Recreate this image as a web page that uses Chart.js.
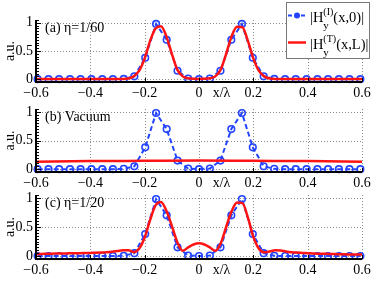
<!DOCTYPE html>
<html>
<head>
<meta charset="utf-8">
<script src="https://cdn.jsdelivr.net/npm/chart.js@4.4.1/dist/chart.umd.min.js"></script>
<style>
  body { margin: 0; background: #fff; }
  #wrap { position: relative; width: 374px; height: 281px; }
  canvas { position: absolute; left: 0; }
</style>
</head>
<body>
<div id="wrap">
  <canvas id="pa" width="374" height="100" style="top:0px"></canvas>
  <canvas id="pb" width="374" height="101" style="top:89px"></canvas>
  <canvas id="pc" width="374" height="102" style="top:175px"></canvas>
</div>
<script>
'use strict';

// axis ticks
const xTicks = [-0.6, -0.4, -0.2, 0, 0.2, 0.4, 0.6];
const xTickLabels = ['−0.6', '−0.4', '−0.2', '0', '0.2', '0.4', '0.6'];
const yTicks = [0, 0.5, 1];
const yTickLabels = ['0', '0.5', '1'];

// |Hy(I)(x,0)| : dashed blue with circles (same in all three panels)
const markX = [-0.594, -0.554, -0.515, -0.475, -0.436, -0.396, -0.356, -0.317, -0.277, -0.238,
  -0.198, -0.158, -0.119, -0.079, -0.040, 0, 0.040, 0.079, 0.119, 0.158,
  0.198, 0.238, 0.277, 0.317, 0.356, 0.396, 0.436, 0.475, 0.515, 0.554, 0.594];
const incident = [0, 0, 0, 0, 0, 0, 0, 0, 0.005, 0.05,
  0.38, 0.98, 0.70, 0.15, 0.01, 0, 0.01, 0.15, 0.70, 0.98,
  0.38, 0.05, 0.005, 0, 0, 0, 0, 0, 0, 0, 0];

// |Hy(T)(x,L)| : solid red
const fineX = [-0.60, -0.58, -0.56, -0.54, -0.52, -0.50, -0.48, -0.46, -0.44, -0.42,
  -0.40, -0.38, -0.36, -0.34, -0.32, -0.30, -0.28, -0.26, -0.24, -0.22,
  -0.20, -0.18, -0.16, -0.14, -0.12, -0.10, -0.08, -0.06, -0.04, -0.02, 0,
  0.02, 0.04, 0.06, 0.08, 0.10, 0.12, 0.14, 0.16, 0.18, 0.20,
  0.22, 0.24, 0.26, 0.28, 0.30, 0.32, 0.34, 0.36, 0.38, 0.40,
  0.42, 0.44, 0.46, 0.48, 0.50, 0.52, 0.54, 0.56, 0.58, 0.60];
const transA = [0.005, 0.005, 0.005, 0.005, 0.005, 0.005, 0.005, 0.005, 0.005, 0.005,
  0.005, 0.005, 0.005, 0.005, 0.005, 0.005, 0.005, 0.012, 0.05, 0.15,
  0.37, 0.68, 0.90, 0.94, 0.76, 0.45, 0.17, 0.05, 0.015, 0.006, 0.005,
  0.006, 0.015, 0.05, 0.17, 0.45, 0.76, 0.93, 0.92, 0.68, 0.37,
  0.15, 0.05, 0.012, 0.005, 0.005, 0.005, 0.005, 0.005, 0.005, 0.005,
  0.005, 0.005, 0.005, 0.005, 0.005, 0.005, 0.005, 0.005, 0.005, 0.005];
const vacX = [-0.6, -0.4, -0.2, 0, 0.2, 0.4, 0.6];
const transB = [0.13, 0.14, 0.145, 0.15, 0.145, 0.14, 0.13];
const transC = [0.035, 0.037, 0.04, 0.042, 0.044, 0.045, 0.047, 0.049, 0.05, 0.052,
  0.055, 0.058, 0.062, 0.068, 0.076, 0.088, 0.10, 0.10, 0.068, 0.13,
  0.32, 0.62, 0.87, 0.93, 0.78, 0.52, 0.24, 0.09, 0.15, 0.20, 0.22,
  0.20, 0.15, 0.09, 0.22, 0.50, 0.77, 0.92, 0.91, 0.66, 0.33,
  0.13, 0.065, 0.08, 0.10, 0.095, 0.08, 0.068, 0.06, 0.055, 0.05,
  0.045, 0.042, 0.04, 0.037, 0.035, 0.032, 0.03, 0.028, 0.027, 0.026];

const panelLabels = ['(a) η=1/60', '(b) Vacuum', '(c) η=1/20'];
const legendLabels = [['(I)', '(x,0)|'], ['(T)', '(x,L)|']];

const BLUE = '#2344ff';
const RED = '#ff1414';
const FONT = '"Liberation Serif", "Times New Roman", serif';

function pts(xs, ys) {
  return xs.map((x, i) => ({ x: x, y: ys[i] }));
}

function drawLegend(ctx) {
  ctx.save();
  ctx.fillStyle = '#fff';
  ctx.fillRect(286.5, 2.5, 83, 56);
  ctx.strokeStyle = '#777';
  ctx.lineWidth = 1;
  ctx.strokeRect(286.5, 2.5, 83, 56);

  const rows = [
    { line: 15.5, base: 22, color: BLUE, dash: [4, 2.5], dot: true },
    { line: 42.5, base: 48.5, color: RED, dash: [], dot: false }
  ];
  rows.forEach((r, i) => {
    ctx.strokeStyle = r.color;
    ctx.lineWidth = r.dot ? 2 : 2.5;
    ctx.setLineDash(r.dash);
    ctx.beginPath();
    ctx.moveTo(288, r.line);
    ctx.lineTo(306, r.line);
    ctx.stroke();
    ctx.setLineDash([]);
    if (r.dot) {
      ctx.fillStyle = r.color;
      ctx.beginPath();
      ctx.arc(297, r.line, 3, 0, Math.PI * 2);
      ctx.fill();
    }
    ctx.fillStyle = '#000';
    ctx.textAlign = 'left';
    ctx.textBaseline = 'alphabetic';
    let x = 310;
    ctx.font = '14.5px ' + FONT;
    ctx.fillText('|H', x, r.base);
    x += ctx.measureText('|H').width;
    ctx.font = '10px ' + FONT;
    ctx.fillText(legendLabels[i][0], x, r.base - 7);
    const wSup = ctx.measureText(legendLabels[i][0]).width;
    ctx.font = '11px ' + FONT;
    ctx.fillText('y', x, r.base + 7);
    x += wSup;
    ctx.font = '14.5px ' + FONT;
    ctx.fillText(legendLabels[i][1], x, r.base);
  });
  ctx.restore();
}

const panelPlugin = {
  id: 'panel',
  // dotted grid under the data
  beforeDatasetsDraw(chart) {
    const ctx = chart.ctx;
    const { left, right, top, bottom } = chart.chartArea;
    const xs = chart.scales.x, ys = chart.scales.y;
    ctx.save();
    ctx.strokeStyle = '#8a8a8a';
    ctx.lineWidth = 1;
    ctx.setLineDash([1, 2]);
    ctx.beginPath();
    xTicks.forEach(v => {
      const p = Math.round(xs.getPixelForValue(v)) + 0.5;
      ctx.moveTo(p, top);
      ctx.lineTo(p, bottom);
    });
    yTicks.forEach(v => {
      const p = Math.round(ys.getPixelForValue(v)) + 0.5;
      ctx.moveTo(left, p);
      ctx.lineTo(right, p);
    });
    ctx.stroke();
    ctx.restore();
  },
  afterDraw(chart, args, opts) {
    const ctx = chart.ctx;
    const { left, right, top, bottom } = chart.chartArea;
    const xs = chart.scales.x, ys = chart.scales.y;
    ctx.save();
    // axes lines
    ctx.strokeStyle = '#000';
    ctx.lineWidth = 2;
    ctx.beginPath();
    ctx.moveTo(left, top);
    ctx.lineTo(left, bottom);
    ctx.lineTo(right, bottom);
    ctx.stroke();
    // minor ticks on the y axis
    ctx.lineWidth = 1;
    ctx.beginPath();
    for (let k = -1; k <= 21; k++) {
      const p = Math.round(ys.getPixelForValue(k * 0.05)) + 0.5;
      const len = (k % 10 === 0) ? 5 : 3;
      ctx.moveTo(left, p);
      ctx.lineTo(left + len, p);
    }
    // ticks on the x axis
    xTicks.forEach(v => {
      const p = Math.round(xs.getPixelForValue(v)) + 0.5;
      ctx.moveTo(p, bottom);
      ctx.lineTo(p, bottom - 4);
    });
    ctx.stroke();
    // panel label and x title
    ctx.fillStyle = '#000';
    ctx.font = '14px ' + FONT;
    ctx.textAlign = 'left';
    ctx.textBaseline = 'alphabetic';
    ctx.fillText(opts.label, left + 9, top + 12);
    ctx.textAlign = 'center';
    ctx.textBaseline = 'middle';
    ctx.fillText('x/λ', xs.getPixelForValue(0.083), bottom + 11);
    ctx.restore();
    if (opts.legend) drawLegend(ctx);
  }
};

function makePanel(id, redX, redY, label, legend) {
  return new Chart(document.getElementById(id), {
    type: 'line',
    data: {
      datasets: [
        {
          data: pts(markX, incident),
          borderColor: BLUE,
          borderWidth: 2,
          borderDash: [5, 3],
          pointRadius: 3.3,
          pointBorderWidth: 1.6,
          pointBorderColor: BLUE,
          pointBackgroundColor: 'rgba(0,0,0,0)',
          tension: 0,
          order: 1,
          clip: 8
        },
        {
          data: pts(redX, redY),
          borderColor: RED,
          borderWidth: 2.5,
          pointRadius: 0,
          cubicInterpolationMode: 'monotone',
          order: 0,
          clip: 8
        }
      ]
    },
    options: {
      responsive: false,
      animation: false,
      devicePixelRatio: 1,
      layout: { padding: { top: 20, right: 12, left: 0, bottom: 0 } },
      plugins: {
        legend: { display: false },
        tooltip: { enabled: false },
        panel: { label: label, legend: legend }
      },
      scales: {
        x: {
          type: 'linear',
          min: -0.6,
          max: 0.6,
          afterBuildTicks: s => { s.ticks = xTicks.map(v => ({ value: v })); },
          afterFit: s => { s.height = 18; },
          ticks: {
            callback: (v, i) => xTickLabels[i],
            font: { family: FONT, size: 14 },
            color: '#000',
            padding: 3,
            maxRotation: 0,
            autoSkip: false
          },
          grid: { display: false, drawTicks: false },
          border: { display: false }
        },
        y: {
          min: -0.05,
          max: 1.05,
          afterBuildTicks: s => { s.ticks = yTicks.map(v => ({ value: v })); },
          afterFit: s => { s.width = 36; },
          ticks: {
            callback: (v, i) => yTickLabels[i],
            font: { family: FONT, size: 14 },
            color: '#000',
            padding: 3
          },
          grid: { display: false, drawTicks: false },
          border: { display: false },
          title: {
            display: true,
            text: 'a.u.',
            font: { family: FONT, size: 14 },
            color: '#000',
            padding: { top: 2, bottom: 0 }
          }
        }
      }
    },
    plugins: [panelPlugin]
  });
}

makePanel('pa', fineX, transA, panelLabels[0], true);
makePanel('pb', vacX, transB, panelLabels[1], false);
makePanel('pc', fineX, transC, panelLabels[2], false);
</script>
</body>
</html>
